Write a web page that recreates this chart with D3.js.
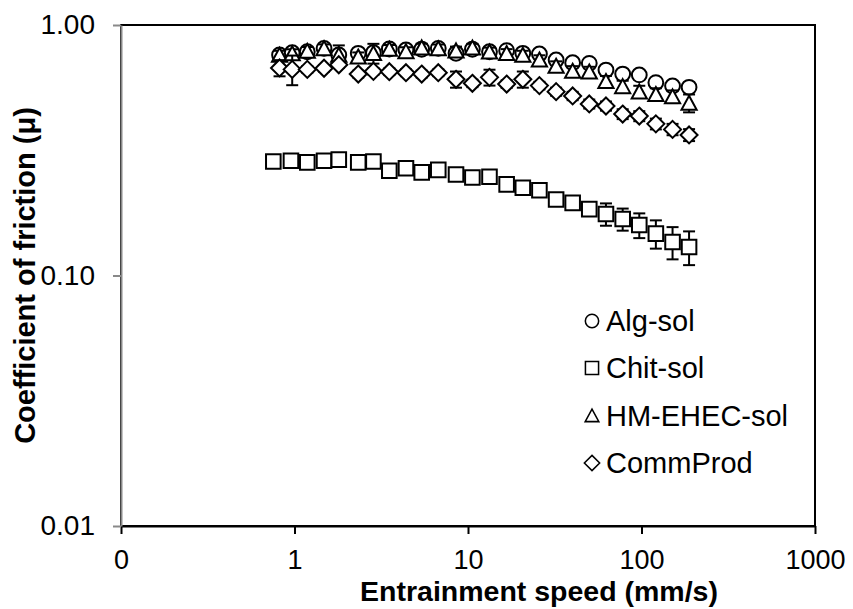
<!DOCTYPE html>
<html>
<head>
<meta charset="utf-8">
<script src="https://cdn.jsdelivr.net/npm/d3@7"></script>
<style>
  body { margin: 0; background: #fff; }
  svg { display: block; font-family: "Liberation Sans", Arial, sans-serif; }
</style>
</head>
<body>
<div id="chart"></div>
<script>
// --- Friction data ---
const speedChit = [0.755, 0.954, 1.185, 1.48, 1.80, 2.33, 2.85, 3.52, 4.39, 5.41, 6.74, 8.53, 10.6,
                   13.3, 16.7, 20.7, 25.8, 32.2, 40.1, 50.0, 62.4, 77.9, 97.1, 121, 151, 188];
const speedOther = [0.82, 0.97, 1.185, 1.48, 1.80, 2.33, 2.85, 3.52, 4.39, 5.41, 6.74, 8.53, 10.6,
                    13.3, 16.7, 20.7, 25.8, 32.2, 40.1, 50.0, 62.4, 77.9, 97.1, 121, 151, 188];

const algSol = [0.759, 0.775, 0.782, 0.807, 0.759, 0.771, 0.775, 0.802, 0.795, 0.800, 0.807, 0.771, 0.800,
                0.782, 0.790, 0.771, 0.766, 0.725, 0.707, 0.703, 0.661, 0.637, 0.632, 0.589, 0.571, 0.564];
const algErr = [0.02, 0.02, 0.02, 0.02, 0.02, 0.02, 0.02, 0.02, 0.02, 0.02, 0.02, 0.02, 0.02,
                0.02, 0.02, 0.02, 0.02, 0.02, 0.02, 0.02, 0.02, 0.02, 0.02, 0.02, 0.02, 0.02];

const chitSol = [0.285, 0.287, 0.283, 0.287, 0.290, 0.283, 0.285, 0.262, 0.268, 0.258, 0.264, 0.253, 0.246,
                 0.248, 0.231, 0.224, 0.219, 0.201, 0.195, 0.184, 0.176, 0.168, 0.159, 0.147, 0.136, 0.130];
const chitErr = [0.013, 0.008, 0.008, 0.008, 0.008, 0.008, 0.008, 0.008, 0.008, 0.008, 0.008, 0.008, 0.008,
                 0.008, 0.008, 0.008, 0.008, 0.008, 0.008, 0.010, 0.018, 0.017, 0.018, 0.019, 0.020, 0.020];

const hmSol = [0.759, 0.770, 0.787, 0.807, 0.759, 0.747, 0.771, 0.802, 0.785, 0.812, 0.806, 0.790, 0.811,
               0.782, 0.771, 0.759, 0.727, 0.686, 0.655, 0.651, 0.596, 0.569, 0.542, 0.529, 0.518, 0.488];
const hmErr = [0.03, 0.03, 0.03, 0.03, 0.07, 0.03, 0.07, 0.03, 0.03, 0.03, 0.03, 0.03, 0.03,
               0.03, 0.03, 0.03, 0.03, 0.03, 0.03, 0.03, 0.03, 0.03, 0.03, 0.03, 0.03, 0.04];

const commProd = [0.674, 0.665, 0.665, 0.672, 0.694, 0.637, 0.653, 0.651, 0.645, 0.637, 0.645, 0.607, 0.585,
                  0.618, 0.581, 0.607, 0.573, 0.542, 0.521, 0.484, 0.475, 0.441, 0.433, 0.403, 0.383, 0.364];
const commErr = [0.05, 0.09, 0.02, 0.02, 0.02, 0.02, 0.02, 0.02, 0.02, 0.02, 0.02, 0.045, 0.02,
                 0.045, 0.02, 0.045, 0.02, 0.02, 0.02, 0.02, 0.02, 0.02, 0.02, 0.02, 0.02, 0.02];

const seriesNames = ["Alg-sol", "Chit-sol", "HM-EHEC-sol", "CommProd"];
const seriesShapes = ["circle", "square", "triangle", "diamond"];
const xTicks = [0.1, 1, 10, 100, 1000];
const yTicks = [0.01, 0.1, 1];

(function(){
const series = [
    { name: seriesNames[0], shape: seriesShapes[0], x: speedOther, y: algSol, e: algErr },
    { name: seriesNames[1], shape: seriesShapes[1], x: speedChit, y: chitSol, e: chitErr },
    { name: seriesNames[2], shape: seriesShapes[2], x: speedOther, y: hmSol, e: hmErr },
    { name: seriesNames[3], shape: seriesShapes[3], x: speedOther, y: commProd, e: commErr }
];

const W = 853, H = 609;
const margin = { top: 25, right: 38, bottom: 83, left: 121 };
const width = W - margin.left - margin.right;
const height = H - margin.top - margin.bottom;

const svg = d3.select("#chart").append("svg")
    .attr("width", W)
    .attr("height", H);

const g = svg.append("g")
    .attr("transform", `translate(${margin.left},${margin.top})`);

// --- Scales ---
const x = d3.scaleLog().domain([0.1, 1000]).range([0, width]);
const y = d3.scaleLog().domain([0.01, 1]).range([height, 0]);

// marker outlines
function markerPath(shape) {
    if (shape === "circle") return "M7.4,0A7.4,7.4 0 1,1 -7.4,0A7.4,7.4 0 1,1 7.4,0Z";
    if (shape === "square") return "M-7.3,-7.3H7.3V7.3H-7.3Z";
    if (shape === "triangle") return "M0,-7.2L7.6,6.8H-7.6Z";
    return "M0,-8.5L8.5,0L0,8.5L-8.5,0Z";
}

// plot border
g.append("rect")
    .attr("width", width)
    .attr("height", height)
    .attr("fill", "none")
    .attr("stroke", "#000")
    .attr("stroke-width", 2);

// --- Axes ---
g.append("g")
    .attr("transform", `translate(0,${height})`)
    .call(d3.axisBottom(x).tickValues(xTicks).tickSize(8).tickSizeOuter(0).tickPadding(16)
        .tickFormat(d => d < 1 ? "0" : d3.format("d")(d)))
    .call(a => a.select(".domain").attr("stroke", "#000").attr("stroke-width", 2))
    .call(a => a.selectAll(".tick line").attr("stroke", "#000").attr("stroke-width", 2))
    .call(a => a.selectAll("text").attr("fill", "#000").style("font-size", "27px")
        .style("font-family", "'Liberation Sans', Arial, sans-serif"));

g.append("g")
    .call(d3.axisLeft(y).tickValues(yTicks).tickSize(8).tickSizeOuter(0).tickPadding(18)
        .tickFormat(d3.format(".2f")))
    .call(a => a.select(".domain").attr("stroke", "#898989").attr("stroke-width", 2))
    .call(a => a.selectAll(".tick line").attr("stroke", "#898989").attr("stroke-width", 2))
    .call(a => a.selectAll("text").attr("fill", "#000").style("font-size", "28px")
        .style("font-family", "'Liberation Sans', Arial, sans-serif"));

// --- Axis titles ---
svg.append("text")
    .attr("x", 539)
    .attr("y", 601)
    .attr("text-anchor", "middle")
    .style("font-size", "28.5px")
    .style("font-weight", "bold")
    .text("Entrainment speed (mm/s)");

svg.append("text")
    .attr("transform", `translate(35,${margin.top + height / 2}) rotate(-90)`)
    .attr("text-anchor", "middle")
    .style("font-size", "29px")
    .style("font-weight", "bold")
    .text("Coefficient of friction (μ)");

// --- Series: error bars under white-filled markers ---
series.forEach(s => {
    const pts = s.x.map((v, i) => ({ x: v, y: s.y[i], e: s.e[i] }));
    const sg = g.append("g");

    const bars = sg.selectAll(".err")
        .data(pts)
        .join("g")
        .attr("class", "err")
        .attr("stroke", "#000")
        .attr("stroke-width", 2);
    bars.append("line")
        .attr("x1", d => x(d.x)).attr("x2", d => x(d.x))
        .attr("y1", d => y(d.y + d.e)).attr("y2", d => y(d.y - d.e));
    bars.append("line")
        .attr("x1", d => x(d.x) - 6).attr("x2", d => x(d.x) + 6)
        .attr("y1", d => y(d.y + d.e)).attr("y2", d => y(d.y + d.e));
    bars.append("line")
        .attr("x1", d => x(d.x) - 6).attr("x2", d => x(d.x) + 6)
        .attr("y1", d => y(d.y - d.e)).attr("y2", d => y(d.y - d.e));

    sg.selectAll(".dot")
        .data(pts)
        .join("path")
        .attr("class", "dot")
        .attr("d", markerPath(s.shape))
        .attr("transform", d => `translate(${x(d.x)},${y(d.y)})`)
        .attr("fill", "#fff")
        .attr("stroke", "#000")
        .attr("stroke-width", 2);
});

// --- Legend ---
const legendRows = [321, 368, 415.5, 463];
const legend = svg.append("g");
series.forEach((s, i) => {
    legend.append("path")
        .attr("d", markerPath(s.shape))
        .attr("transform", `translate(592,${legendRows[i]}) scale(0.9)`)
        .attr("fill", "#fff")
        .attr("stroke", "#000")
        .attr("stroke-width", 1.7);
    legend.append("text")
        .attr("x", 606)
        .attr("y", legendRows[i] + 10)
        .style("font-size", "29px")
        .text(s.name);
});
})();
</script>
</body>
</html>
